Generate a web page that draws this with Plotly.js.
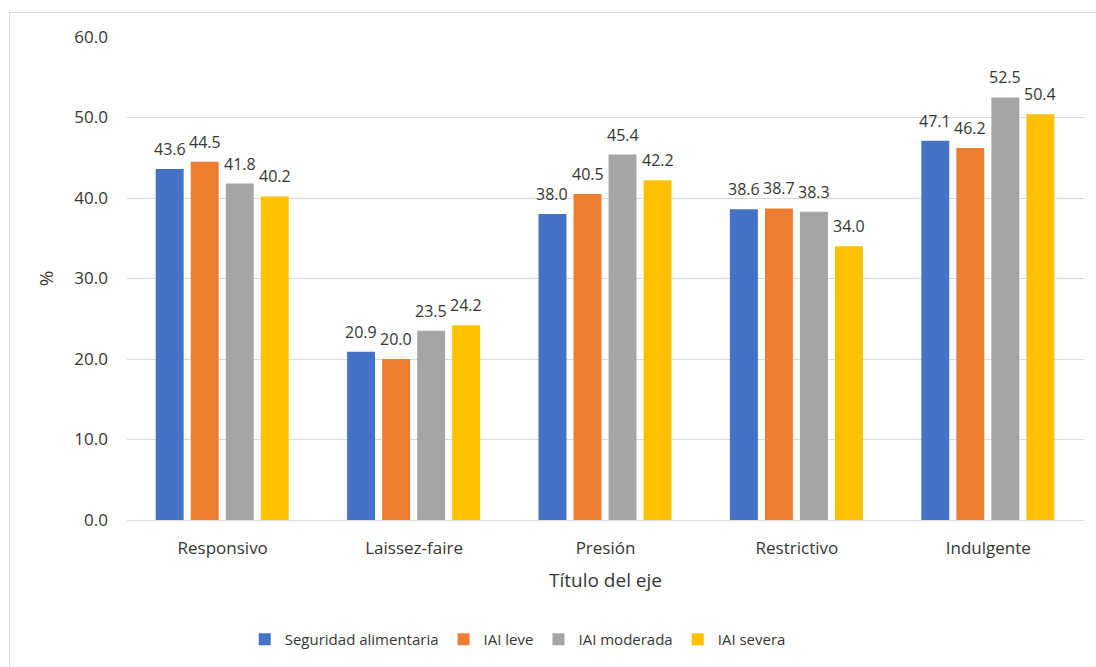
<!DOCTYPE html>
<html>
<head>
<meta charset="utf-8">
<script src="https://cdn.plot.ly/plotly-3.0.1.min.js"></script>
<style>
  html, body { margin: 0; padding: 0; overflow: hidden; background: #fff; }
  #frame { position: absolute; left: 9px; top: 12px; width: 1110px; height: 680px;
           border: 1px solid #d9d9d9; box-sizing: border-box; }
  #chart { position: absolute; left: 0; top: 0; width: 1096px; height: 667px; }
</style>
</head>
<body>
<div id="frame"></div>
<div id="chart"></div>
<script>
// Estilos parentales (categorías del eje X)
const categories = ['Responsivo', 'Laissez-faire', 'Presión', 'Restrictivo', 'Indulgente'];

// Porcentajes por nivel de seguridad alimentaria
const seguridadAlimentaria = [43.6, 20.9, 38.0, 38.6, 47.1];
const iaiLeve              = [44.5, 20.0, 40.5, 38.7, 46.2];
const iaiModerada          = [41.8, 23.5, 45.4, 38.3, 52.5];
const iaiSevera            = [40.2, 24.2, 42.2, 34.0, 50.4];

const seriesNames  = ['Seguridad alimentaria', 'IAI leve', 'IAI moderada', 'IAI severa'];
const seriesValues = [seguridadAlimentaria, iaiLeve, iaiModerada, iaiSevera];
const seriesColors = ['#4472C4', '#ED7D31', '#A5A5A5', '#FFC000'];

const yTickVals = [0, 10, 20, 30, 40, 50, 60];

// Geometría de las barras agrupadas (en unidades de categoría)
const BAR_WIDTH = 0.146;
const SLOT = 0.183;
const FIRST_OFFSET = -0.35;

const textColor = '#363636';
const fontFamily = '"Open Sans", "Noto Sans", sans-serif';

const traces = seriesValues.map((vals, j) => ({
  type: 'bar',
  name: seriesNames[j],
  x: categories,
  y: vals,
  width: BAR_WIDTH,
  offset: FIRST_OFFSET + j * SLOT,
  marker: { color: seriesColors[j], line: { width: 0 } },
  hoverinfo: 'x+y+name'
}));

// Etiquetas de valor sobre cada barra
const annotations = [];
seriesValues.forEach((vals, j) => {
  vals.forEach((v, i) => {
    annotations.push({
      x: i + FIRST_OFFSET + j * SLOT + BAR_WIDTH / 2,
      y: v,
      xref: 'x', yref: 'y',
      text: v.toFixed(1),
      showarrow: false,
      yanchor: 'middle',
      yshift: 20,
      font: { family: fontFamily, size: 16, color: textColor }
    });
  });
});

const layout = {
  width: 1096,
  height: 667,
  margin: { l: 127, r: 12, t: 37, b: 146 },
  paper_bgcolor: 'rgba(0,0,0,0)',
  plot_bgcolor: 'rgba(0,0,0,0)',
  font: { family: fontFamily, color: textColor, size: 16 },
  showlegend: true,
  legend: {
    orientation: 'h',
    x: 0.123, xanchor: 'left',
    y: -0.245, yanchor: 'middle',
    font: { family: fontFamily, size: 15, color: textColor },
    itemwidth: 30,
    traceorder: 'normal'
  },
  xaxis: {
    type: 'category',
    range: [-0.5, 4.5],
    showgrid: false,
    showline: true,
    linecolor: '#d9d9d9',
    linewidth: 1,
    ticks: '',
    ticklabelstandoff: 13,
    tickfont: { family: fontFamily, size: 17, color: textColor },
    title: {
      text: 'Título del eje',
      font: { family: fontFamily, size: 19, color: textColor },
      standoff: 15
    },
    fixedrange: true
  },
  yaxis: {
    range: [0, 60],
    tickvals: yTickVals,
    tickformat: '.1f',
    showgrid: true,
    gridcolor: '#d9d9d9',
    gridwidth: 1,
    zeroline: false,
    showline: false,
    ticks: '',
    ticklabelstandoff: 18,
    tickfont: { family: fontFamily, size: 17, color: textColor },
    title: {
      text: '%',
      font: { family: fontFamily, size: 19, color: textColor },
      standoff: 15
    },
    fixedrange: true
  },
  annotations: annotations
};

Plotly.newPlot('chart', traces, layout, { displayModeBar: false, staticPlot: true });
</script>
</body>
</html>
